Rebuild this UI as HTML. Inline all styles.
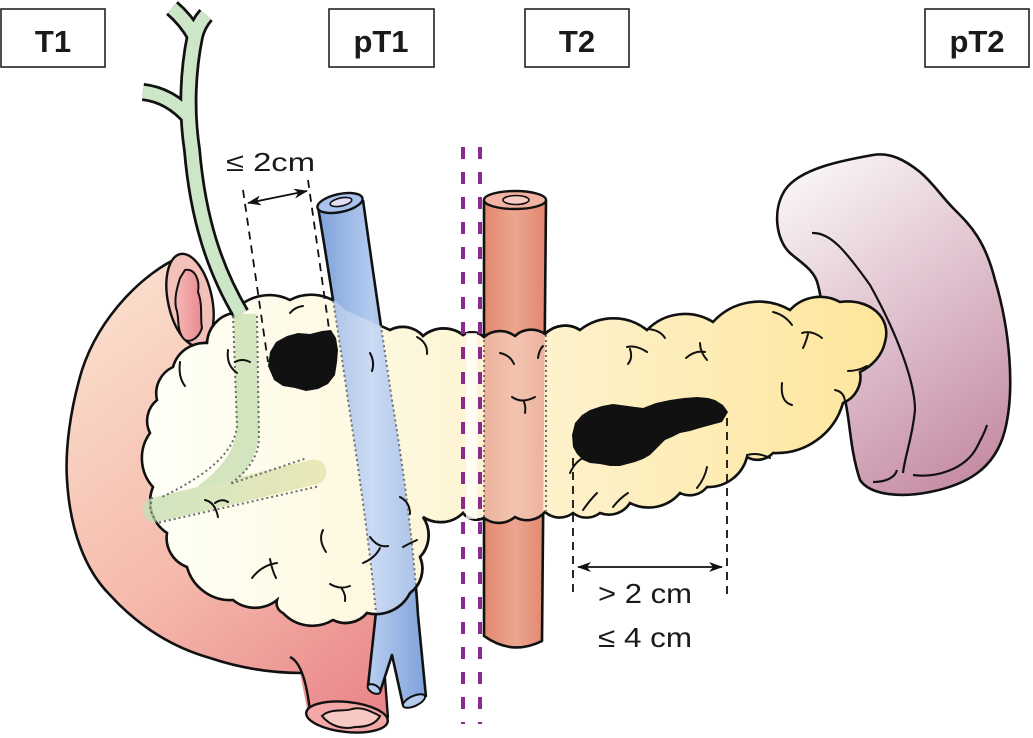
<!DOCTYPE html>
<html><head><meta charset="utf-8"><style>
html,body{margin:0;padding:0;background:#fff;}
svg{display:block;}
</style></head><body>
<svg width="1033" height="738" viewBox="0 0 1033 738" xmlns="http://www.w3.org/2000/svg">
<defs>
<linearGradient id="gPan" gradientUnits="userSpaceOnUse" x1="150" y1="0" x2="890" y2="0">
<stop offset="0" stop-color="#fffff7"/><stop offset="0.3" stop-color="#fdf8df"/><stop offset="0.6" stop-color="#fdf0c6"/><stop offset="1" stop-color="#fde59a"/>
</linearGradient>
<linearGradient id="gDuo" gradientUnits="userSpaceOnUse" x1="80" y1="300" x2="390" y2="700">
<stop offset="0" stop-color="#fbdfcd"/><stop offset="0.55" stop-color="#f5b9ab"/><stop offset="1" stop-color="#e9868a"/>
</linearGradient>
<linearGradient id="gSpl" gradientUnits="userSpaceOnUse" x1="790" y1="170" x2="1010" y2="480">
<stop offset="0" stop-color="#faf6f8"/><stop offset="1" stop-color="#c2869f"/>
</linearGradient>
<linearGradient id="gVein" x1="0" y1="0" x2="1" y2="0">
<stop offset="0" stop-color="#7fa2da"/><stop offset="0.5" stop-color="#b4cbef"/><stop offset="1" stop-color="#7fa2da"/>
</linearGradient>
<linearGradient id="gArt" x1="0" y1="0" x2="1" y2="0">
<stop offset="0" stop-color="#e2876f"/><stop offset="0.5" stop-color="#eca58f"/><stop offset="1" stop-color="#e2876f"/>
</linearGradient>
<linearGradient id="gPD" gradientUnits="userSpaceOnUse" x1="150" y1="0" x2="325" y2="0">
<stop offset="0" stop-color="#c6dfb4"/><stop offset="1" stop-color="#e6e4ac"/>
</linearGradient>
<linearGradient id="gCutTop" x1="0" y1="0" x2="1" y2="0">
<stop offset="0" stop-color="#f5b8b5"/><stop offset="1" stop-color="#e98a90"/>
</linearGradient>
<marker id="ar" markerUnits="userSpaceOnUse" markerWidth="14" markerHeight="10" refX="13" refY="5" orient="auto-start-reverse" viewBox="0 0 14 10">
<path d="M0,0 L14,5 L0,10 L4,5 Z" fill="#111"/>
</marker>
<path id="pancP" d="M207,343 A32,32 0 0 1 233,313 A46,46 0 0 1 290,300 A45,45 0 0 1 345,310 L390,330 A27,27 0 0 1 423,336 A32,32 0 0 1 463,335 A17,17 0 0 1 484,337 A25,25 0 0 1 515,336 A24,24 0 0 1 545,334 A28,28 0 0 1 580,330 A54,54 0 0 1 647,330 A53,53 0 0 1 713,322 A62,62 0 0 1 790,310 A41,41 0 0 1 840,302 C870,298 892,318 885,342 C882,356 872,366 860,372 A28,28 0 0 1 843,403 A69,69 0 0 1 773,453 A21,21 0 0 1 747,457 A40,40 0 0 1 707,487 A22,22 0 0 1 680,493 A41,41 0 0 1 630,503 A25,25 0 0 1 600,513 A22,22 0 0 1 573,513 A22,22 0 0 1 545,512 A24,24 0 0 1 515,517 A25,25 0 0 1 484,518 A17,17 0 0 1 463,513 A32,32 0 0 1 423,517 A32,32 0 0 1 420,557 A30,30 0 0 1 410,593 A38,38 0 0 1 367,613 A28,28 0 0 1 333,620 A40,40 0 0 1 283,613 A11,11 0 0 1 277,600 A35,35 0 0 1 233,600 A45,45 0 0 1 187,567 A31,31 0 0 1 167,533 A38,38 0 0 1 153,487 A43,43 0 0 1 150,433 A27,27 0 0 1 157,400 A29,29 0 0 1 173,367 A33,33 0 0 1 207,343 Z"/>
<path id="artP" d="M484,200 L484,636 Q512,656 542,641 L546,200 Z"/>
<path id="veinP" d="M318,207 Q332,290 348,400 Q368,530 376,612 L368,686 L380,692 L392,655 L403,705 L426,697 L418,615 Q412,520 392,400 Q374,280 363,200 Z"/>
<clipPath id="inP"><use href="#pancP"/></clipPath>
<mask id="outP" maskUnits="userSpaceOnUse" x="0" y="0" width="1033" height="738">
<rect x="0" y="0" width="1033" height="738" fill="#fff"/>
<use href="#pancP" fill="#000"/>
</mask>
</defs>

<!-- Duodenum -->
<path d="M180,257 C145,272 100,315 82,370 C70,410 65,450 67,480 C70,530 85,570 110,595 C140,628 175,648 210,658 C240,668 270,673 300,673 L308,714 L388,720 L380,612 L300,560 L222,340 L200,300 Z" fill="url(#gDuo)"/>
<path d="M180,257 C145,272 100,315 82,370 C70,410 65,450 67,480 C70,530 85,570 110,595 C140,628 175,648 210,658 C240,668 270,673 302,673" fill="none" stroke="#111" stroke-width="2.6"/>
<path d="M290,657 Q305,664 310,712" fill="none" stroke="#111" stroke-width="2.4"/>
<path d="M388,718 L380,614" fill="none" stroke="#111" stroke-width="2.4"/>
<ellipse cx="347" cy="717" rx="41" ry="15" transform="rotate(6 347 717)" fill="#f3a7a6" stroke="#111" stroke-width="2.4"/>
<path d="M322,716 C330,708 345,712 352,709 C362,706 372,712 380,716 C376,724 366,727 355,727 C343,730 330,726 322,716 Z" fill="#f8c9c2" stroke="#111" stroke-width="2"/>
<ellipse cx="190" cy="300" rx="22" ry="47" transform="rotate(-12 190 300)" fill="#f4c0ba" stroke="#111" stroke-width="2.4"/>
<path d="M185,270 C195,268 200,280 198,292 C203,305 200,318 202,328 C198,340 188,344 183,338 C176,328 180,318 176,308 C174,296 178,285 180,278 Z" fill="url(#gCutTop)" stroke="#111" stroke-width="2"/>

<!-- Spleen -->
<path d="M873,155 C845,160 800,168 785,190 C772,210 776,240 790,253 C800,262 815,270 818,285 C822,300 822,310 822,330 L845,400 C850,420 850,450 860,480 C870,495 900,498 930,492 C965,485 995,470 1005,430 C1015,390 1010,330 995,280 C985,240 970,225 955,210 C940,195 935,185 920,172 C905,160 890,152 873,155 Z" fill="url(#gSpl)" stroke="#111" stroke-width="2.6"/>
<path d="M812,233 C830,232 845,250 870,285 C895,330 915,380 915,410 C912,440 905,455 903,473" fill="none" stroke="#111" stroke-width="2.2"/>
<path d="M873,482 C885,482 895,478 897,470" fill="none" stroke="#111" stroke-width="2.2"/>
<path d="M913,475 C935,478 965,470 977,447 C982,437 985,432 987,425" fill="none" stroke="#111" stroke-width="2.2"/>

<!-- Pancreas -->
<use href="#pancP" fill="url(#gPan)" stroke="#111" stroke-width="2.6"/>

<!-- Tube fills -->
<use href="#artP" fill="url(#gArt)"/>
<use href="#veinP" fill="url(#gVein)"/>

<!-- overlay inside pancreas -->
<g clip-path="url(#inP)">
<use href="#artP" fill="#fbeedd" fill-opacity="0.42"/>
<use href="#veinP" fill="#ffffff" fill-opacity="0.3"/>
</g>

<!-- Tube outlines: solid outside, dotted inside -->
<g fill="none" stroke-linejoin="round">
<g mask="url(#outP)" stroke="#111" stroke-width="2.6">
<path d="M484,200 L484,636 Q512,656 542,641 L546,200"/>
<path d="M318,207 Q332,290 348,400 Q368,530 376,612 L368,686 M380,692 L392,655 L403,705 M426,697 L418,615 Q412,520 392,400 Q374,280 363,200"/>
</g>
<g clip-path="url(#inP)" stroke="#6f6f6f" stroke-width="2" stroke-dasharray="2 3">
<path d="M484,200 L484,636 M546,200 L546,641"/>
<path d="M318,207 Q332,290 348,400 Q368,530 376,612 M418,615 Q412,520 392,400 Q374,280 363,200"/>
</g>
</g>

<!-- restroke pancreas outline except vein top -->
<path d="M390,330 A27,27 0 0 1 423,336 A32,32 0 0 1 463,335 A17,17 0 0 1 484,337 A25,25 0 0 1 515,336 A24,24 0 0 1 545,334 A28,28 0 0 1 580,330 M545,512 A24,24 0 0 1 515,517 A25,25 0 0 1 484,518 A17,17 0 0 1 463,513 A32,32 0 0 1 423,517 A32,32 0 0 1 420,557 A30,30 0 0 1 410,593 A38,38 0 0 1 367,613 A28,28 0 0 1 333,620" fill="none" stroke="#111" stroke-width="2.6"/>

<!-- tube caps -->
<ellipse cx="515" cy="200" rx="31" ry="9" fill="#f2b3a3" stroke="#111" stroke-width="2.4"/>
<ellipse cx="516" cy="200" rx="13" ry="4.5" fill="#f7cbc0" stroke="#111" stroke-width="1.6"/>
<ellipse cx="340" cy="203" rx="23" ry="9" transform="rotate(-12 340 203)" fill="#a9c2ee" stroke="#111" stroke-width="2.4"/>
<ellipse cx="341" cy="202" rx="11" ry="4" transform="rotate(-12 341 202)" fill="#e2e0f6" stroke="#111" stroke-width="1.6"/>
<ellipse cx="374" cy="689" rx="7" ry="4" transform="rotate(30 374 689)" fill="#b4cbef" stroke="#111" stroke-width="2"/>
<ellipse cx="414" cy="701" rx="12" ry="5" transform="rotate(-25 414 701)" fill="#b4cbef" stroke="#111" stroke-width="2"/>

<!-- Green bile duct above pancreas -->
<g fill="none" stroke-linecap="butt" stroke-linejoin="round">
<path d="M172,8 Q186,20 195,36 M206,15 Q198,24 195,36 M195,36 C188,70 186,110 192,150 C198,220 215,270 241,314 M143,92 Q170,95 190,118" stroke="#111" stroke-width="18"/>
<path d="M172,8 Q186,20 195,36 M206,15 Q198,24 195,36 M195,36 C188,70 186,110 192,150 C198,220 215,270 241,314 M143,92 Q170,95 190,118" stroke="#cde6c8" stroke-width="12.5"/>
</g>

<!-- Green ducts inside pancreas -->
<g opacity="0.8" fill="none">
<path d="M245,314 L248,430 Q246,465 205,495" stroke="#c8e0b4" stroke-width="23"/>
<path d="M155,510 L314,472" stroke="url(#gPD)" stroke-width="25" stroke-linecap="round"/>
</g>
<g fill="none" stroke="#6b6b6b" stroke-width="2" stroke-dasharray="2 3">
<path d="M233,316 L237,425 Q235,462 162,497"/>
<path d="M257,316 L259,440 Q257,465 230,484 L307,458"/>
<path d="M152,497 L150,510 L157,523 L320,486"/>
</g>

<!-- lobule lines -->
<g fill="none" stroke="#111" stroke-width="2" stroke-linecap="round">
<path d="M228,350 Q226,365 237,373 M235,362 Q242,358 250,362"/>
<path d="M180,362 Q178,377 185,386"/>
<path d="M205,500 Q215,502 218,517 M215,503 Q222,498 228,502"/>
<path d="M323,530 Q318,540 326,552"/>
<path d="M252,578 Q262,565 277,563 M270,559 Q272,570 276,578"/>
<path d="M330,584 Q340,590 350,586 M342,589 Q346,595 345,601"/>
<path d="M370,537 Q378,548 388,546 M363,563 Q375,558 380,548"/>
<path d="M400,497 Q410,502 410,514"/>
<path d="M403,547 Q410,543 417,540"/>
<path d="M370,353 Q375,362 372,371"/>
<path d="M290,313 Q295,307 303,306"/>
<path d="M417,337 Q428,343 427,354"/>
<path d="M500,353 Q510,355 514,364"/>
<path d="M538,358 Q539,350 543,346"/>
<path d="M512,397 Q522,404 535,397 M524,402 Q526,407 525,413"/>
<path d="M627,347 Q637,345 647,352 M630,349 Q633,358 628,364"/>
<path d="M686,358 Q695,350 705,352 M700,343 Q700,352 707,360"/>
<path d="M802,333 Q812,330 822,338 M808,334 Q806,342 803,348"/>
<path d="M848,371 Q858,371 867,366"/>
<path d="M782,383 Q780,402 792,405"/>
<path d="M835,390 Q845,392 845,403"/>
<path d="M570,473 Q575,462 583,458"/>
<path d="M583,510 Q590,500 597,493"/>
<path d="M613,507 Q620,498 628,493"/>
<path d="M697,488 Q705,478 707,467"/>
<path d="M747,455 Q758,452 770,458"/>
<path d="M648,329 Q660,330 665,338"/>
<path d="M773,312 Q785,315 792,325"/>
</g>

<!-- Tumors -->
<path d="M268,366 L270,352 L276,342 L287,336 L298,333 L310,334 L322,331 L331,330 L336,338 L338,350 L337,362 L335,375 L328,384 L318,389 L306,391 L295,388 L283,386 L274,380 Z" fill="#111"/>
<path d="M573,447 L572,435 L575,423 L582,415 L590,410 L602,406 L613,404 L628,406 L643,408 L656,403 L670,400 L684,398 L697,397 L708,398 L715,400 L723,405 L728,412 L722,422 L711,425 L700,428 L690,431 L680,433 L672,437 L665,440 L657,448 L650,455 L643,459 L635,462 L620,466 L610,466 L600,464 L590,463 L583,460 L577,454 Z" fill="#111"/>

<!-- white cut band + purple lines -->
<rect x="466" y="333" width="11" height="186" fill="#ffffff" fill-opacity="0.75"/>
<g stroke="#8a2a8e" stroke-width="4" stroke-dasharray="12 13">
<line x1="463" y1="147" x2="463" y2="724"/>
<line x1="480" y1="147" x2="480" y2="724"/>
</g>

<!-- measurement lines -->
<g fill="none" stroke="#111" stroke-width="1.8" stroke-dasharray="8 6">
<path d="M243,190 L268,362"/>
<path d="M308,180 L330,336"/>
<path d="M573,458 L573,597"/>
<path d="M727,418 L727,597"/>
</g>
<g stroke="#111" stroke-width="1.8" fill="none">
<line x1="248" y1="203" x2="307" y2="191" marker-start="url(#ar)" marker-end="url(#ar)"/>
<line x1="578" y1="567" x2="722" y2="567" marker-start="url(#ar)" marker-end="url(#ar)"/>
</g>

<g font-family="Liberation Sans, Arial, sans-serif" fill="#1a1a1a">
<text x="226" y="171" font-size="26" textLength="89" lengthAdjust="spacingAndGlyphs">≤ 2cm</text>
<text x="598" y="603" font-size="28" textLength="94" lengthAdjust="spacingAndGlyphs">&gt; 2 cm</text>
<text x="598" y="647" font-size="28" textLength="94" lengthAdjust="spacingAndGlyphs">≤ 4 cm</text>
</g>

<!-- label boxes -->
<g fill="#fff" stroke="#222" stroke-width="1.6">
<rect x="1" y="9" width="104" height="58"/>
<rect x="329" y="9" width="105" height="58"/>
<rect x="525" y="9" width="104" height="58"/>
<rect x="925" y="9" width="104" height="58"/>
</g>
<g font-family="Liberation Sans, Arial, sans-serif" font-weight="bold" font-size="31" fill="#1a1a1a" text-anchor="middle">
<text x="53" y="52">T1</text>
<text x="381" y="52">pT1</text>
<text x="577" y="52">T2</text>
<text x="977" y="52">pT2</text>
</g>
</svg>
</body></html>
